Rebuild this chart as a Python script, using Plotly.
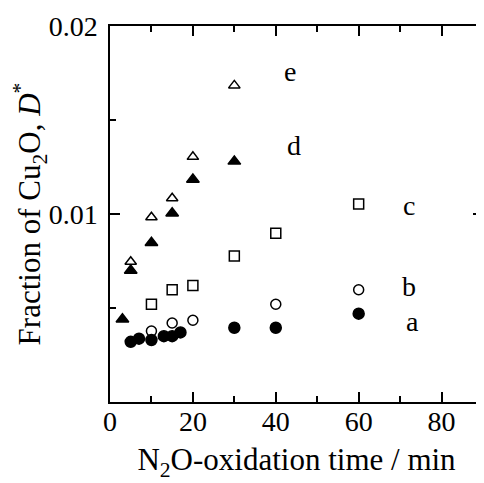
import plotly.graph_objects as go

# Data
a_x = [5, 7, 10, 13, 15, 17, 30, 40, 60]
a_y = [0.0032, 0.00337, 0.0033, 0.0035, 0.0035, 0.0037, 0.00395, 0.00395, 0.0047]

b_x = [10, 15, 20, 40, 60]
b_y = [0.00377, 0.0042, 0.00435, 0.0052, 0.00597]

c_x = [10, 15, 20, 30, 40, 60]
c_y = [0.0052, 0.00597, 0.0062, 0.00777, 0.00898, 0.01053]

d_x = [3, 5, 10, 15, 20, 30]
d_y = [0.0044, 0.0070, 0.00847, 0.01004, 0.01184, 0.0128]

e_x = [5, 10, 15, 20, 30]
e_y = [0.00746, 0.00983, 0.01084, 0.01304, 0.01684]

label_text = ["e", "d", "c", "b", "a"]
label_x = [43.5, 44.5, 72.1, 72.1, 72.9]
label_y = [0.0176, 0.01367, 0.01045, 0.00614, 0.0043]

x_tickvals = [0, 20, 40, 60, 80]
y_tickvals = [0.01, 0.02]
y_ticktext = ["0.01", "0.02"]

FONT = "Liberation Serif"

fig = go.Figure()

def add(x, y, symbol, size):
    fig.add_trace(go.Scatter(
        x=x, y=y, mode="markers",
        marker=dict(symbol=symbol, size=size, color="black",
                    line=dict(color="black", width=1.5)),
        showlegend=False, cliponaxis=False))

add(a_x, a_y, "circle", 11)
add(b_x, b_y, "circle-open", 10)
add(c_x, c_y, "square-open", 10)
add(d_x, d_y, "triangle-up", 11)
add(e_x, e_y, "triangle-up-open", 10)

for t, x, y in zip(label_text, label_x, label_y):
    fig.add_annotation(x=x, y=y, text=t, showarrow=False,
                       font=dict(family=FONT, size=28, color="black"))

axis_common = dict(
    showline=True, linecolor="black", linewidth=1.5, mirror="ticks",
    ticks="inside", tickcolor="black", tickwidth=1.5, ticklen=10,
    showgrid=False, zeroline=False, automargin=False,
    tickfont=dict(family=FONT, size=28, color="black"),
)

fig.update_xaxes(
    **axis_common,
    range=[0, 90], tickvals=x_tickvals, ticklabelstandoff=-6,
    minor=dict(dtick=10, ticks="inside", ticklen=6, tickcolor="black", tickwidth=1.5, showgrid=False),
    title=dict(text="N<sub>2</sub>O-oxidation time / min",
               font=dict(family=FONT, size=31, color="black"), standoff=12),
)
fig.update_yaxes(
    **axis_common,
    range=[0, 0.02], tickvals=y_tickvals, ticktext=y_ticktext, ticklabelstandoff=5,
    minor=dict(dtick=0.005, ticks="inside", ticklen=6, tickcolor="black", tickwidth=1.5, showgrid=False),
    title=dict(text="Fraction of Cu<sub>2</sub>O, <i>D</i><sup>*</sup>",
               font=dict(family=FONT, size=31, color="black"), standoff=18),
)

fig.update_layout(
    width=484, height=483,
    margin=dict(l=102, r=9, t=18, b=89),
    plot_bgcolor="white", paper_bgcolor="white",
    font=dict(family=FONT, color="black"),
)

fig.write_html("out.html")
